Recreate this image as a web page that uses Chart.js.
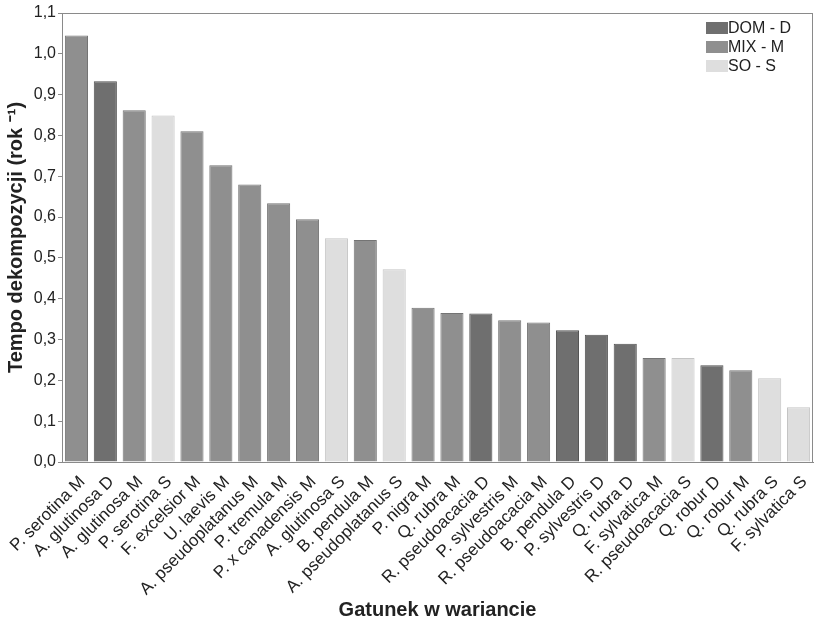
<!DOCTYPE html>
<html>
<head>
<meta charset="utf-8">
<script src="https://cdn.jsdelivr.net/npm/chart.js@4/dist/chart.umd.min.js"></script>
<style>
  html, body { margin: 0; padding: 0; background: #fff; }
  #wrap { width: 818px; height: 625px; }
</style>
</head>
<body>
<div id="wrap"><canvas id="myChart" width="818" height="625"></canvas></div>
<script>
// species + variant (D = dominant, M = mixed, S = solitary)
const labels = [
    'P. serotina M', 'A. glutinosa D', 'A. glutinosa M', 'P. serotina S', 'F. excelsior M',
    'U. laevis M', 'A. pseudoplatanus M', 'P. tremula M', 'P. x canadensis M', 'A. glutinosa S',
    'B. pendula M', 'A. pseudoplatanus S', 'P. nigra M', 'Q. rubra M', 'R. pseudoacacia D',
    'P. sylvestris M', 'R. pseudoacacia M', 'B. pendula D', 'P. sylvestris D', 'Q. rubra D',
    'F. sylvatica M', 'R. pseudoacacia S', 'Q. robur D', 'Q. robur M', 'Q. rubra S',
    'F. sylvatica S'
];
const variants = [
    'M', 'D', 'M', 'S', 'M',
    'M', 'M', 'M', 'M', 'S',
    'M', 'S', 'M', 'M', 'D',
    'M', 'M', 'D', 'D', 'D',
    'M', 'S', 'D', 'M', 'S',
    'S'
];
const rates = [
    1.045, 0.933, 0.862, 0.849, 0.810,
    0.727, 0.680, 0.634, 0.595, 0.548,
    0.544, 0.472, 0.378, 0.365, 0.364,
    0.347, 0.342, 0.323, 0.312, 0.290,
    0.255, 0.255, 0.237, 0.225, 0.205,
    0.134
];
const yTicks = [0, 0.1, 0.2, 0.3, 0.4, 0.5, 0.6, 0.7, 0.8, 0.9, 1.0, 1.1];

const legendNames = ['DOM - D', 'MIX - M', 'SO - S'];
const legendKeys = ['D', 'M', 'S'];

const fillColors = { D: '#6f6f6f', M: '#8f8f8f', S: '#dedede' };
const edgeColors = { D: '#505050', M: '#747474', S: '#c4c4c4' };

const FONT = "'Liberation Sans', Arial, sans-serif";
const TXT = '#222';

// box around the plot + legend in the top right corner
const framePlugin = {
    id: 'frame',
    afterDraw(chart) {
        const { ctx, chartArea } = chart;
        ctx.save();
        ctx.strokeStyle = '#8a8a8a';
        ctx.lineWidth = 1;
        ctx.strokeRect(chartArea.left + 0.5, chartArea.top + 0.5,
            chartArea.right - chartArea.left - 1, chartArea.bottom - chartArea.top);

        let x = chartArea.right - 107;
        let y = chartArea.top + 15;
        ctx.font = '16px ' + FONT;
        ctx.textBaseline = 'middle';
        legendKeys.forEach((k, i) => {
            const yy = y + i * 19;
            ctx.fillStyle = fillColors[k];
            ctx.fillRect(x, yy - 6, 22, 12);
            ctx.fillStyle = TXT;
            ctx.fillText(legendNames[i], x + 22, yy + 1);
        });
        ctx.restore();
    }
};

new Chart(document.getElementById('myChart'), {
    type: 'bar',
    data: {
        labels,
        datasets: [{
            label: 'Tempo dekompozycji',
            data: rates,
            backgroundColor: variants.map(v => fillColors[v]),
            borderColor: variants.map(v => edgeColors[v]),
            borderWidth: 1,
            barPercentage: 0.8,
            categoryPercentage: 1.0,
        }]
    },
    options: {
        responsive: false,
        animation: false,
        layout: { padding: { top: 13, right: 5, left: 0, bottom: 0 } },
        plugins: {
            legend: { display: false },
            tooltip: { enabled: false },
        },
        scales: {
            y: {
                min: 0,
                max: 1.1,
                afterFit(scale) { scale.width = 62; },
                afterBuildTicks(scale) { scale.ticks = yTicks.map(v => ({ value: v })); },
                ticks: {
                    padding: 2,
                    color: TXT,
                    font: { family: FONT, size: 16 },
                    callback: v => v.toFixed(1).replace('.', ','),
                },
                grid: { drawOnChartArea: false, tickLength: 4, color: '#8a8a8a' },
                border: { color: '#8a8a8a' },
                title: {
                    display: true,
                    text: 'Tempo dekompozycji (rok \u207B\u00B9)',
                    color: TXT,
                    font: { family: FONT, size: 20, weight: 'bold' },
                    padding: { top: 4, bottom: 0 },
                },
            },
            x: {
                afterFit(scale) { scale.height = 163; },
                ticks: {
                    autoSkip: false,
                    minRotation: 45,
                    maxRotation: 45,
                    padding: 2,
                    labelOffset: 6,
                    color: TXT,
                    font: { family: FONT, size: 17 },
                },
                grid: { display: false },
                border: { color: '#8a8a8a' },
                title: {
                    display: true,
                    text: 'Gatunek w wariancie',
                    color: TXT,
                    font: { family: FONT, size: 20, weight: 'bold' },
                    padding: { top: 0, bottom: 3 },
                },
            },
        },
    },
    plugins: [framePlugin],
});
</script>
</body>
</html>
